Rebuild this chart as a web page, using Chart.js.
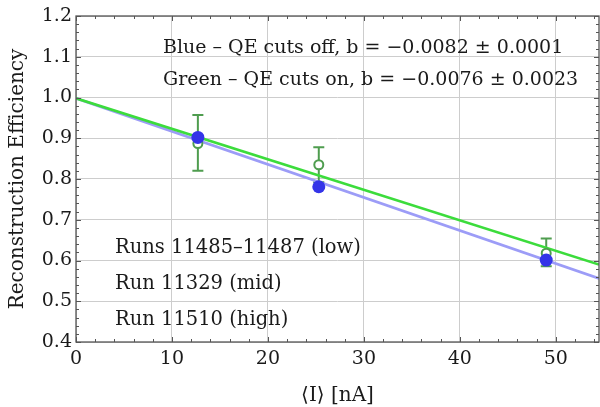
<!DOCTYPE html>
<html><head><meta charset="utf-8">
<script src="https://cdn.jsdelivr.net/npm/chart.js@4"></script>
<style>html,body{margin:0;padding:0;background:#fff;overflow:hidden}#wrap{width:600px;height:407px}</style>
</head><body><div id="wrap"><canvas id="c"></canvas></div>
<script>
// ---- data ----
const current = [12.7, 25.3, 49.0];                 // <I> [nA]
const blueEff = [0.902, 0.781, 0.601];              // QE cuts off
const greenEff = [0.887, 0.835, 0.618];             // QE cuts on
const greenErrLow = [0.820, 0.792, 0.586];
const greenErrHigh = [0.957, 0.878, 0.654];
const blueFitX = [0, 54.5];
const blueFitY = [0.998, 0.556];
const greenFitX = [0, 54.5];
const greenFitY = [0.998, 0.590];
const xTicks = [0, 10, 20, 30, 40, 50];
const yTicks = [0.4, 0.5, 0.6, 0.7, 0.8, 0.9, 1.0, 1.1, 1.2];
const fitLabels = ["Blue – QE cuts off, b = −0.0082 ± 0.0001", "Green – QE cuts on, b = −0.0076 ± 0.0023"];
const runLabels = ["Runs 11485–11487 (low)", "Run 11329 (mid)", "Run 11510 (high)"];
const xTitle = "⟨I⟩ [nA]";
const yTitle = "Reconstruction Efficiency";

const FONT = "'DejaVu Serif', 'Liberation Serif', serif";
const BLUE_PT = '#3434e8', BLUE_LN = '#9c9cf7', GREEN_LN = '#3cdc3c', GREEN_PT = '#4f9d4f';

const pts = (xs, ys) => xs.map((x, i) => ({x, y: ys[i]}));

const decor = {
  id: 'decor',
  afterLayout(chart) {
    const target = chart.width - 1;
    const a = chart.chartArea, x = chart.scales.x;
    if (Math.abs(a.right - target) > 0.5) {
      a.right = target;
      a.width = target - a.left;
      x.right = target;
      x.width = target - x.left;
      x.configure();
    }
  },
  beforeDatasetsDraw(chart) {
    const {ctx, scales: {x, y}} = chart;
    ctx.save();
    ctx.strokeStyle = GREEN_PT; ctx.lineWidth = 2;
    current.forEach((c, i) => {
      const px = x.getPixelForValue(c);
      const y1 = y.getPixelForValue(greenErrLow[i]);
      const y2 = y.getPixelForValue(greenErrHigh[i]);
      ctx.beginPath();
      ctx.moveTo(px, y1); ctx.lineTo(px, y2);
      ctx.moveTo(px - 5.5, y1); ctx.lineTo(px + 5.5, y1);
      ctx.moveTo(px - 5.5, y2); ctx.lineTo(px + 5.5, y2);
      ctx.stroke();
    });
    ctx.restore();
  },
  afterDraw(chart) {
    const {ctx, chartArea: a, scales: {x, y}} = chart;
    ctx.save();
    ctx.strokeStyle = '#555'; ctx.lineWidth = 1.3;
    ctx.strokeRect(a.left, a.top, a.right - a.left, a.bottom - a.top);
    ctx.lineWidth = 1;
    ctx.beginPath();
    for (let v = 0; v <= x.max + 1e-9; v += 2) {
      const px = Math.round(x.getPixelForValue(v)) + 0.5;
      const L = (Math.abs(v % 10) < 1e-6) ? 5 : 3;
      ctx.moveTo(px, a.bottom); ctx.lineTo(px, a.bottom - L);
      ctx.moveTo(px, a.top); ctx.lineTo(px, a.top + L);
    }
    for (let k = 0; k <= 40; k++) {
      const v = 0.4 + k * 0.02;
      const py = Math.round(y.getPixelForValue(v)) + 0.5;
      const L = (k % 5 === 0) ? 5 : 3;
      ctx.moveTo(a.left, py); ctx.lineTo(a.left + L, py);
      ctx.moveTo(a.right, py); ctx.lineTo(a.right - L, py);
    }
    ctx.stroke();
    ctx.fillStyle = '#1a1a1a';
    ctx.textBaseline = 'middle';
    ctx.textAlign = 'left';
    ctx.font = `19px ${FONT}`;
    ctx.fillText(fitLabels[0], 163, 48);
    ctx.fillText(fitLabels[1], 163, 80);
    ctx.font = `19.5px ${FONT}`;
    ctx.fillText(runLabels[0], 115, 248);
    ctx.fillText(runLabels[1], 115, 284);
    ctx.fillText(runLabels[2], 115, 320);
    ctx.textAlign = 'center';
    ctx.font = `20px ${FONT}`;
    ctx.fillText(xTitle, (a.left + a.right) / 2, 396);
    ctx.translate(18, (a.top + a.bottom) / 2);
    ctx.rotate(-Math.PI / 2);
    ctx.fillText(yTitle, 0, 0);
    ctx.restore();
  }
};

new Chart(document.getElementById('c'), {
  type: 'scatter',
  data: {
    datasets: [
      {label: 'blue', data: pts(current, blueEff), pointRadius: 6.5, pointBackgroundColor: BLUE_PT,
       pointBorderColor: BLUE_PT, pointBorderWidth: 0, showLine: false, order: 0},
      {label: 'green', data: pts(current, greenEff), pointRadius: 4.5, pointBackgroundColor: '#fff',
       pointBorderColor: GREEN_PT, pointBorderWidth: 2, showLine: false, order: 1},
      {label: 'green fit', data: pts(greenFitX, greenFitY), showLine: true, borderColor: GREEN_LN,
       borderWidth: 2.5, pointRadius: 0, order: 2},
      {label: 'blue fit', data: pts(blueFitX, blueFitY), showLine: true, borderColor: BLUE_LN,
       borderWidth: 2.8, pointRadius: 0, order: 3}
    ]
  },
  options: {
    responsive: true, maintainAspectRatio: false, animation: false,
    layout: {autoPadding: false, padding: {top: 16, right: 1, left: 0, bottom: 0}},
    plugins: {legend: {display: false}, tooltip: {enabled: false}},
    scales: {
      x: {
        type: 'linear', min: 0, max: 54.5,
        afterBuildTicks: s => { s.ticks = xTicks.map(v => ({value: v})); },
        afterFit: s => { s.height = 65; s.paddingLeft = 0; s.paddingRight = 0; },
        grid: {color: '#cdcdcd', lineWidth: 1, drawTicks: false},
        border: {display: false},
        ticks: {padding: 6, color: '#1a1a1a', font: {family: FONT, size: 19}, callback: v => String(v)}
      },
      y: {
        type: 'linear', min: 0.4, max: 1.2,
        afterBuildTicks: s => { s.ticks = yTicks.map(v => ({value: v})); },
        afterFit: s => { s.width = 76; s.paddingTop = 0; s.paddingBottom = 0; },
        grid: {color: '#cdcdcd', lineWidth: 1, drawTicks: false},
        border: {display: false},
        ticks: {padding: 4, color: '#1a1a1a', font: {family: FONT, size: 19}, callback: v => Number(v).toFixed(1)}
      }
    }
  },
  plugins: [decor]
});
</script>
</body></html>
